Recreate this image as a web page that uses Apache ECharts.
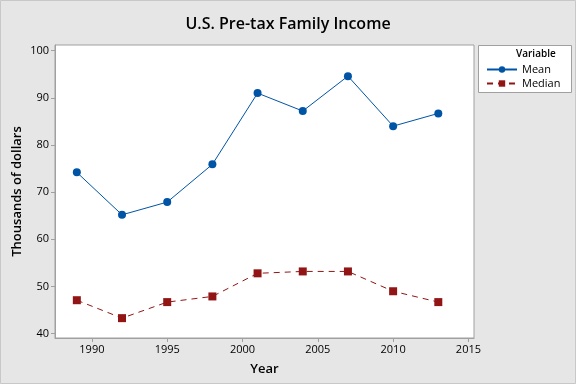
<!DOCTYPE html>
<html><head><meta charset="utf-8">
<script src="https://cdn.jsdelivr.net/npm/echarts@6/dist/echarts.min.js"></script>
<style>html,body{margin:0;padding:0;background:#e6e6e6}#c{width:576px;height:384px}</style>
</head><body><div id="c"></div>
<script>
const years = [1989, 1992, 1995, 1998, 2001, 2004, 2007, 2010, 2013];
const meanValues = [74.2, 65.2, 67.9, 75.9, 91.0, 87.2, 94.6, 84.0, 86.7];
const medianValues = [47.1, 43.3, 46.7, 47.9, 52.8, 53.2, 53.2, 49.0, 46.7];
const xTicks = [1990, 1995, 2000, 2005, 2010, 2015];
const yTicks = [40, 50, 60, 70, 80, 90, 100];

const font = 'Open Sans';
const chart = echarts.init(document.getElementById('c'));
chart.setOption({
  backgroundColor: '#e6e6e6',
  animation: false,
  title: {
    text: 'U.S. Pre-tax Family Income', left: 'center', top: 11,
    textStyle: {fontFamily: font, fontSize: 16, fontWeight: 600, color: '#000'}
  },
  grid: {left: 55, top: 45, right: 102, bottom: 46, outerBoundsMode: 'none', containLabel: false, show: true, backgroundColor: '#fff', borderColor: '#a0a0a0', borderWidth: 1},
  xAxis: {
    type: 'value', min: 1987.55, max: 2015.37,
    name: 'Year', nameLocation: 'middle', nameGap: 25,
    nameTextStyle: {fontFamily: font, fontSize: 13, fontWeight: 600, color: '#000'},
    axisLine: {show: true, onZero: false, lineStyle: {color: '#a0a0a0'}},
    axisTick: {show: true, customValues: xTicks, length: 4, lineStyle: {color: '#a0a0a0'}},
    axisLabel: {customValues: xTicks, formatter: v => String(v), fontFamily: font, fontSize: 11, color: '#000', margin: 6},
    splitLine: {show: false}
  },
  yAxis: {
    type: 'value', min: 39.09, max: 101.2,
    name: 'Thousands of dollars', nameLocation: 'middle', nameGap: 31, nameRotate: 90,
    nameMoveOverlap: false,
    nameTextStyle: {fontFamily: font, fontSize: 13, fontWeight: 600, color: '#000'},
    axisLine: {show: true, onZero: false, lineStyle: {color: '#a0a0a0'}},
    axisTick: {show: true, customValues: yTicks, length: 4, lineStyle: {color: '#a0a0a0'}},
    axisLabel: {customValues: yTicks, formatter: v => String(v), fontFamily: font, fontSize: 11, color: '#000', margin: 6},
    splitLine: {show: false}
  },
  legend: {
    orient: 'vertical', left: 481, top: 59, itemWidth: 30, itemHeight: 8, itemGap: 3,
    textStyle: {fontFamily: font, fontSize: 11, color: '#000'},
    data: ['Mean', 'Median']
  },
  graphic: [
    {type: 'rect', shape: {x: 478.5, y: 45.5, width: 93, height: 47}, style: {fill: '#fff', stroke: '#a0a0a0', lineWidth: 1}, z: -1},
    {type: 'text', left: 516, top: 49, style: {text: 'Variable', fontFamily: font, fontSize: 10, fontWeight: 600, fill: '#000'}},
    {type: 'rect', shape: {x: 0.5, y: 0.5, width: 575, height: 383}, style: {fill: 'none', stroke: '#c8c8c8', lineWidth: 1}}
  ],
  series: [
    {
      name: 'Mean', type: 'line', data: years.map((y, i) => [y, meanValues[i]]),
      symbol: 'circle', symbolSize: 8,
      lineStyle: {color: '#0054a6', width: 1},
      itemStyle: {color: '#0054a6'}
    },
    {
      name: 'Median', type: 'line', data: years.map((y, i) => [y, medianValues[i]]),
      symbol: 'rect', symbolSize: 8,
      lineStyle: {color: '#921515', width: 1, type: [6, 5]},
      itemStyle: {color: '#921515'}
    }
  ]
});
</script></body></html>
